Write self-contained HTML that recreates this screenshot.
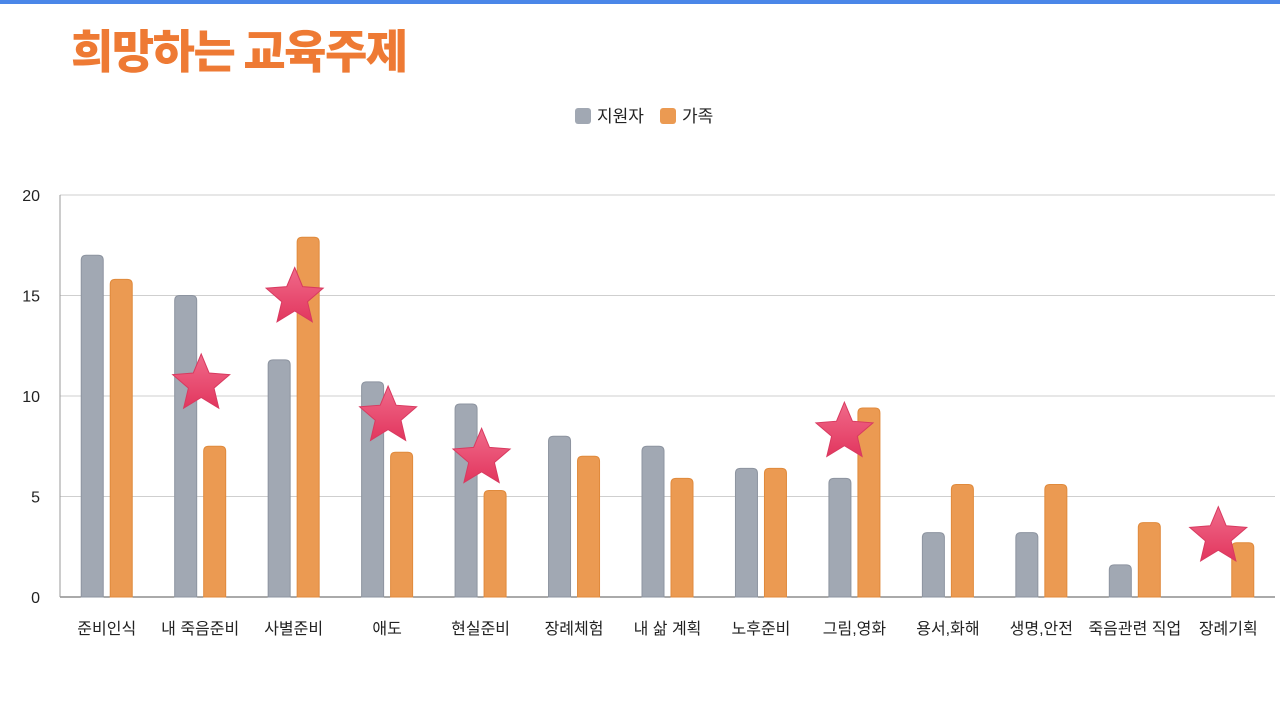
<!DOCTYPE html>
<html><head><meta charset="utf-8">
<style>
html,body{margin:0;padding:0;background:#fff;}
body{width:1280px;height:721px;overflow:hidden;position:relative;font-family:"Liberation Sans","Noto Sans CJK KR",sans-serif;}
#topbar{position:absolute;left:0;top:0;width:1280px;height:4px;background:#4a86e8;}
#title{position:absolute;left:71px;top:16px;font-size:46px;font-weight:900;color:#ee7a34;letter-spacing:-1.5px;font-family:"Noto Sans CJK KR",sans-serif;}
svg{position:absolute;left:0;top:0;}
</style></head>
<body>
<div id="topbar"></div>
<div id="title">희망하는 교육주제</div>
<svg id="chart" width="1280" height="721">
<defs>
<linearGradient id="starGrad" x1="0" y1="0" x2="0" y2="1">
<stop offset="0" stop-color="#f06a8a"/><stop offset="1" stop-color="#e2365e"/>
</linearGradient>
</defs>
</svg>
<script>
const categories=["준비인식","내 죽음준비","사별준비","애도","현실준비","장례체험","내 삶 계획","노후준비","그림,영화","용서,화해","생명,안전","죽음관련 직업","장례기획"];
const supporters=[17,15,11.8,10.7,9.6,8,7.5,6.4,5.9,3.2,3.2,1.6,0];
const family=[15.8,7.5,17.9,7.2,5.3,7,5.9,6.4,9.4,5.6,5.6,3.7,2.7];
const yTicks=[0,5,10,15,20];
const starCats=[1,2,3,4,8,12];
const starVals=[10.8,15.1,9.2,7.1,8.4,3.2];
const seriesNames=["지원자","가족"];

const NS="http://www.w3.org/2000/svg";
const svg=document.getElementById('chart');
const X0=60,X1=1275,Y0=597,Y1=195,YMAX=20;
const band=(X1-X0)/categories.length;
const y=v=>Y0-(v/YMAX)*(Y0-Y1);
const cx=i=>X0+band*(i+0.5);
function mk(t,a){const e=document.createElementNS(NS,t);for(const k in a)e.setAttribute(k,a[k]);svg.appendChild(e);return e;}

yTicks.forEach(t=>{
  const l=mk('line',{x1:X0,x2:X1,y1:y(t),y2:y(t),stroke:t===0?'#555':'#cfcfcf','stroke-width':1});
  
  
  const tx=mk('text',{x:40,y:y(t)+6,'text-anchor':'end','font-size':16,fill:'#222'});
  tx.textContent=t;
  
  
});
const ax=mk('line',{x1:X0,x2:X0,y1:Y1,y2:Y0,stroke:'#999','stroke-width':1});



const bw=22,gap=7;
function bar(xl,v,fill,stroke,name){
  if(v<=0)return;
  const top=y(v),h=Y0-top,r=5;
  const d=`M${xl},${Y0} L${xl},${top+r} Q${xl},${top} ${xl+r},${top} L${xl+bw-r},${top} Q${xl+bw},${top} ${xl+bw},${top+r} L${xl+bw},${Y0} Z`;
  const p=mk('path',{d:d,fill:fill,stroke:stroke,'stroke-width':1});
  
  
}
categories.forEach((c,i)=>{
  const c0=cx(i);
  bar(c0-gap/2-bw,supporters[i],'#a1a8b3','#8d94a0','bar-supporters-'+i);
  bar(c0+gap/2,family[i],'#eb9a52','#e08a3c','bar-family-'+i);
  const t=mk('text',{x:c0,y:634,'text-anchor':'middle','font-size':16,fill:'#222'});
  t.textContent=c;
  
  
});

function star(x0,y0,R){
  let pts=[];
  for(let k=0;k<10;k++){const a=-Math.PI/2+k*Math.PI/5;const r=k%2?R*0.45:R;pts.push((x0+r*Math.cos(a)).toFixed(1)+','+(y0+r*Math.sin(a)).toFixed(1));}
  return pts.join(' ');
}
starCats.forEach((ci,k)=>{
  const s=mk('polygon',{points:star(cx(ci)-(ci>6?10:-1),y(starVals[k])+4,30),fill:'url(#starGrad)',stroke:'#d83a60','stroke-width':1});
  
  
});

// legend
const lg=[[575,'#a1a8b3'],[660,'#eb9a52']];
lg.forEach((l,k)=>{
  const r=mk('rect',{x:l[0],y:108,width:16,height:16,rx:3,fill:l[1]});
  
  
  const t=mk('text',{x:l[0]+22,y:122,'font-size':17,fill:'#222'});
  t.textContent=seriesNames[k];
  
  
});
</script>
</body></html>
